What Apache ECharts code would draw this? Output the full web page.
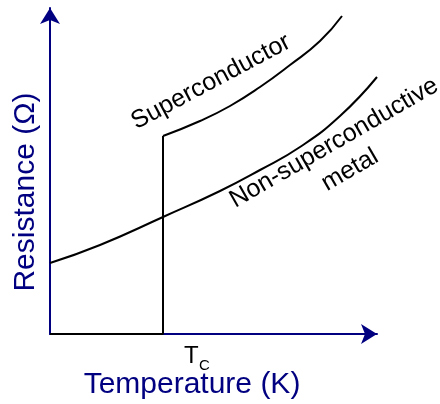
<!DOCTYPE html>
<html>
<head>
<meta charset="utf-8">
<script src="https://cdn.jsdelivr.net/npm/echarts@6/dist/echarts.min.js"></script>
<style>html,body{margin:0;padding:0;background:#fff}#c{width:440px;height:404px}</style>
</head>
<body>
<div id="c"></div>
<script>
// Arbitrary units (temperature, resistance)
const zeroPart = [[0, 0], [113, 0], [113, 198]];
const superconductor = [[113, 198], [150, 213], [180, 228], [210, 247], [240, 269], [270, 293], [292, 318]];
const metal = [[0, 71], [50, 89], [113, 117], [170, 143], [210, 164], [250, 187], [290, 218], [327, 257]];
const labels = { x: 'Temperature (K)', y: 'Resistance (Ω)', tc: 'T', tcSub: 'C', sc: 'Superconductor', metal1: 'Non-superconductive', metal2: 'metal' };

const navy = '#000080';
const font = 'Liberation Sans, Arial, sans-serif';
const chart = echarts.init(document.getElementById('c'));
chart.setOption({
  animation: false,
  grid: { left: 50, right: 63, top: 8, bottom: 70 },
  xAxis: {
    type: 'value', min: 0, max: 327,
    axisLine: { lineStyle: { color: navy, width: 2 }, symbol: ['none', 'arrow'], symbolSize: [15, 16] },
    axisTick: { show: false }, axisLabel: { show: false }, splitLine: { show: false }
  },
  yAxis: {
    type: 'value', min: 0, max: 326,
    axisLine: { lineStyle: { color: navy, width: 2 }, symbol: ['none', 'arrow'], symbolSize: [15, 16] },
    axisTick: { show: false }, axisLabel: { show: false }, splitLine: { show: false }
  },
  series: [
    { type: 'line', data: metal, smooth: 0.5, showSymbol: false, clip: false, lineStyle: { color: '#000', width: 2 } },
    { type: 'line', data: zeroPart, showSymbol: false, clip: false, lineStyle: { color: '#000', width: 2 } },
    { type: 'line', data: superconductor, smooth: 0.5, showSymbol: false, clip: false, lineStyle: { color: '#000', width: 2 } }
  ],
  graphic: [
    { type: 'text', x: 26, y: 192, rotation: Math.PI / 2, style: { text: labels.y, font: '30px ' + font, fill: navy, textAlign: 'center', textVerticalAlign: 'middle' } },
    { type: 'text', x: 192, y: 385, style: { text: labels.x, font: '30px ' + font, fill: navy, textAlign: 'center', textVerticalAlign: 'middle' } },
    { type: 'text', x: 184, y: 368, style: { text: labels.tc, font: '24px ' + font, fill: '#000', textAlign: 'left', textVerticalAlign: 'bottom' } },
    { type: 'text', x: 199, y: 373, style: { text: labels.tcSub, font: '15px ' + font, fill: '#000', textAlign: 'left', textVerticalAlign: 'bottom' } },
    { type: 'text', x: 211, y: 82, rotation: 28 * Math.PI / 180, style: { text: labels.sc, font: '25px ' + font, fill: '#000', textAlign: 'center', textVerticalAlign: 'middle' } },
    { type: 'text', x: 334, y: 143, rotation: 30 * Math.PI / 180, style: { text: labels.metal1, font: '25px ' + font, fill: '#000', textAlign: 'center', textVerticalAlign: 'middle' } },
    { type: 'text', x: 350, y: 170, rotation: 30 * Math.PI / 180, style: { text: labels.metal2, font: '25px ' + font, fill: '#000', textAlign: 'center', textVerticalAlign: 'middle' } }
  ]
});
</script>
</body>
</html>
